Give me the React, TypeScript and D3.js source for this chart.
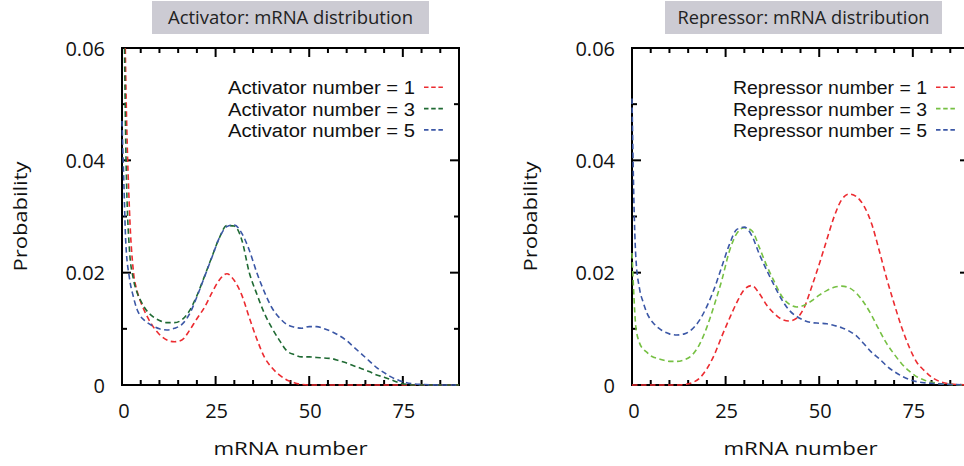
import React from "react";
import * as d3 from "d3";

// ---------- data ----------
const mRNA = [0, 0.5, 1, 2, 3, 4, 5, 6, 8, 10, 12, 14, 16, 18, 20, 22, 24, 26, 28, 30, 32, 34, 36, 38, 40, 42, 44, 46, 48, 50, 52, 54, 56, 58, 60, 62, 64, 66, 68, 70, 72, 74, 76, 78, 80, 85, 90];

const activator1 = [0.10, 0.078, 0.055, 0.031, 0.0205, 0.0168, 0.0148, 0.0132, 0.0107, 0.0090, 0.0080, 0.0077, 0.0080, 0.0097, 0.0118, 0.0138, 0.0164, 0.0187, 0.0198, 0.0186, 0.0160, 0.0120, 0.0082, 0.0050, 0.0031, 0.0018, 0.0009, 0.0004, 0.0001, 0, 0, 0, 0, 0, 0, 0, 0, 0, 0, 0, 0, 0, 0, 0, 0, 0, 0];
const activator3 = [0.10, 0.07, 0.043, 0.024, 0.019, 0.0165, 0.0150, 0.0138, 0.0123, 0.0115, 0.0111, 0.0111, 0.0116, 0.0132, 0.0159, 0.0193, 0.0228, 0.0262, 0.0284, 0.0283, 0.0258, 0.0200, 0.0162, 0.0128, 0.0102, 0.0080, 0.0061, 0.0054, 0.0050, 0.0050, 0.0049, 0.0048, 0.0047, 0.0043, 0.0039, 0.0034, 0.0029, 0.0024, 0.0018, 0.0014, 0.0009, 0.0004, 0.0001, 0, 0, 0, 0];
const activator5 = [0.047, 0.036, 0.0255, 0.0190, 0.0158, 0.0135, 0.0122, 0.0115, 0.0106, 0.0100, 0.0098, 0.0101, 0.0108, 0.0126, 0.0157, 0.0192, 0.0227, 0.0262, 0.0282, 0.0285, 0.0270, 0.0240, 0.0200, 0.0166, 0.0138, 0.0120, 0.0108, 0.0103, 0.0101, 0.0104, 0.0104, 0.0100, 0.0095, 0.0088, 0.0079, 0.0067, 0.0055, 0.0043, 0.0031, 0.0022, 0.0014, 0.0008, 0.0004, 0.0002, 0.0001, 0, 0];

const repressor1 = [0, 0, 0, 0, 0, 0, 0, 0, 0, 0, 0, 0.0001, 0.0004, 0.0012, 0.0029, 0.0054, 0.0087, 0.0118, 0.0147, 0.0170, 0.0177, 0.0163, 0.0142, 0.0127, 0.0117, 0.0114, 0.0119, 0.0138, 0.0175, 0.0215, 0.0258, 0.0300, 0.0330, 0.0340, 0.0335, 0.0318, 0.0287, 0.0240, 0.0190, 0.0145, 0.0103, 0.0068, 0.0041, 0.0026, 0.0014, 0.0002, 0];
const repressor3 = [0.0235, 0.016, 0.0105, 0.0075, 0.0064, 0.0058, 0.0052, 0.0049, 0.0045, 0.0042, 0.0042, 0.0045, 0.0053, 0.0072, 0.0103, 0.0143, 0.0187, 0.0238, 0.0270, 0.0280, 0.0275, 0.0245, 0.0212, 0.0184, 0.0158, 0.0144, 0.0139, 0.0142, 0.0150, 0.0160, 0.0168, 0.0174, 0.0176, 0.0173, 0.0163, 0.0146, 0.0124, 0.0098, 0.0074, 0.0055, 0.0038, 0.0025, 0.0015, 0.0009, 0.0005, 0.0001, 0];
const repressor5 = [0.051, 0.033, 0.023, 0.0172, 0.0147, 0.0128, 0.0116, 0.0108, 0.0097, 0.0091, 0.0089, 0.0091, 0.0099, 0.0115, 0.0140, 0.0172, 0.0211, 0.0250, 0.0277, 0.0281, 0.0266, 0.0233, 0.0204, 0.0177, 0.0152, 0.0133, 0.0122, 0.0115, 0.0111, 0.0110, 0.0109, 0.0106, 0.0102, 0.0096, 0.0087, 0.0073, 0.0058, 0.0047, 0.0034, 0.0024, 0.0016, 0.0010, 0.0006, 0.0004, 0.0003, 0.0001, 0];

const titles = ["Activator: mRNA distribution", "Repressor: mRNA distribution"];
const activatorLabels = ["Activator number = 1", "Activator number = 3", "Activator number = 5"];
const repressorLabels = ["Repressor number = 1", "Repressor number = 3", "Repressor number = 5"];
const xMajorTicks = [0, 25, 50, 75];
const xTickLabels = ["0", "25", "50", "75"];
const yMajorTicks = [0, 0.02, 0.04, 0.06];
const yTickLabels = ["0", "0.02", "0.04", "0.06"];
const yMinorTicks = [0.01, 0.03, 0.05];
const xLabel = "mRNA number";
const yLabel = "Probability";

// ---------- layout ----------
const W = 964;
const H = 466;
const TOP = 48;
const PH = 337;
const PW = 337;
const FONT = "'Open Sans', 'Noto Sans', sans-serif";
const LEGEND_FONT = "'Liberation Sans', Arial, sans-serif";

const panels = [
  {
    left: 122, boxX: 152, boxW: 277, titleW: 245, legendRight: 415, legendW: 187,
    series: [activator1, activator3, activator5], labels: activatorLabels,
    colors: ["#ec2b30", "#1f6a33", "#3b57a6"], ylabX: 27,
  },
  {
    left: 632, boxX: 665, boxW: 277, titleW: 252, legendRight: 927, legendW: 194,
    series: [repressor1, repressor3, repressor5], labels: repressorLabels,
    colors: ["#ec2b30", "#76c043", "#3b57a6"], ylabX: 537,
  },
];

function Panel({ p, idx }: { p: any; idx: number }) {
  const x = d3.scaleLinear().domain([0, 90]).range([p.left, p.left + PW]);
  const y = d3.scaleLinear().domain([0, 0.06]).range([TOP + PH, TOP]);
  const xMinor = d3.range(0, 90, 5).filter((v) => !xMajorTicks.includes(v));
  const line = d3
    .line<number>()
    .x((_, i) => x(mRNA[i]))
    .y((d) => y(d))
    .curve(d3.curveMonotoneX);
  const clipId = `clip${idx}`;
  const x0 = p.left;
  const x1 = p.left + PW;
  const yb = TOP + PH;
  return (
    <g>
      <defs>
        <clipPath id={clipId}>
          <rect x={x0 - 2} y={TOP} width={PW + 4} height={PH + 2} />
        </clipPath>
      </defs>
      {/* title */}
      <rect x={p.boxX} y={1} width={p.boxW} height={33} fill="#cccbd3" />
      <text x={p.boxX + p.boxW / 2} y={24} textAnchor="middle" fontSize={18.5} fontFamily={FONT} fill="#222"
        textLength={p.titleW} lengthAdjust="spacingAndGlyphs">{titles[idx]}</text>

      {/* frame */}
      <rect x={x0} y={TOP} width={PW} height={PH} fill="none" stroke="#000" strokeWidth={2} />
      {/* x ticks bottom & top */}
      {xMajorTicks.map((v) => (
        <g key={"xM" + v}>
          <line x1={x(v)} x2={x(v)} y1={yb} y2={yb - 9} stroke="#000" strokeWidth={2} />
          <line x1={x(v)} x2={x(v)} y1={TOP} y2={TOP + 9} stroke="#000" strokeWidth={2} />
        </g>
      ))}
      {xMinor.map((v) => (
        <g key={"xm" + v}>
          <line x1={x(v)} x2={x(v)} y1={yb} y2={yb - 5} stroke="#000" strokeWidth={2} />
          <line x1={x(v)} x2={x(v)} y1={TOP} y2={TOP + 5} stroke="#000" strokeWidth={2} />
        </g>
      ))}
      {/* y ticks left & right */}
      {yMajorTicks.map((v) => (
        <g key={"yM" + v}>
          <line x1={x0} x2={x0 + 9} y1={y(v)} y2={y(v)} stroke="#000" strokeWidth={2} />
          <line x1={x1} x2={x1 - 9} y1={y(v)} y2={y(v)} stroke="#000" strokeWidth={2} />
        </g>
      ))}
      {yMinorTicks.map((v) => (
        <g key={"ym" + v}>
          <line x1={x0} x2={x0 + 5} y1={y(v)} y2={y(v)} stroke="#000" strokeWidth={2} />
          <line x1={x1} x2={x1 - 5} y1={y(v)} y2={y(v)} stroke="#000" strokeWidth={2} />
        </g>
      ))}
      {/* tick labels */}
      {xMajorTicks.map((v, i) => (
        <text key={"xl" + v} x={x(v) + (v === 0 ? 2 : 1)} y={418} textAnchor="middle" fontSize={20} fontFamily={FONT} fill="#111">
          {xTickLabels[i]}
        </text>
      ))}
      {yMajorTicks.map((v, i) => (
        <text key={"yl" + v} x={x0 - 17} y={y(v) + 7.5} textAnchor="end" fontSize={20} fontFamily={FONT} fill="#111">
          {yTickLabels[i]}
        </text>
      ))}
      {/* axis labels */}
      <text x={(x0 + x0 + PW) / 2} y={455} textAnchor="middle" fontSize={19} fontFamily={FONT} fill="#111"
        textLength={154} lengthAdjust="spacingAndGlyphs">{xLabel}</text>
      <text transform={`translate(${p.ylabX},${TOP + PH / 2}) rotate(-90)`} textAnchor="middle" fontSize={19} fontFamily={FONT} fill="#111"
        textLength={110} lengthAdjust="spacingAndGlyphs">{yLabel}</text>

      {/* curves */}
      <g clipPath={`url(#${clipId})`}>
        {p.series.map((s: number[], i: number) => (
          <path key={"s" + i} d={line(s) || ""} fill="none" stroke={p.colors[i]} strokeWidth={1.6} strokeDasharray="5.5 3.5" />
        ))}
      </g>

      {/* legend */}
      {p.labels.map((lab: string, i: number) => {
        const by = 94.3 + i * 21.3;
        return (
          <g key={"lg" + i}>
            <text x={p.legendRight} y={by} textAnchor="end" fontSize={18} fontFamily={LEGEND_FONT} fill="#111"
              textLength={p.legendW} lengthAdjust="spacingAndGlyphs">{lab}</text>
            <line x1={p.legendRight + 9} x2={p.legendRight + 28} y1={by - 7} y2={by - 7} stroke={p.colors[i]} strokeWidth={1.6} strokeDasharray="4.5 2.7" />
          </g>
        );
      })}
    </g>
  );
}

export default function App() {
  return (
    <div>
      <style>{`body{margin:0;background:#fff}`}</style>
      <svg width={W} height={H} viewBox={`0 0 ${W} ${H}`} style={{ display: "block" }}>
        <rect x={0} y={0} width={W} height={H} fill="#fff" />
        {panels.map((p, i) => (
          <Panel key={i} p={p} idx={i} />
        ))}
      </svg>
    </div>
  );
}
